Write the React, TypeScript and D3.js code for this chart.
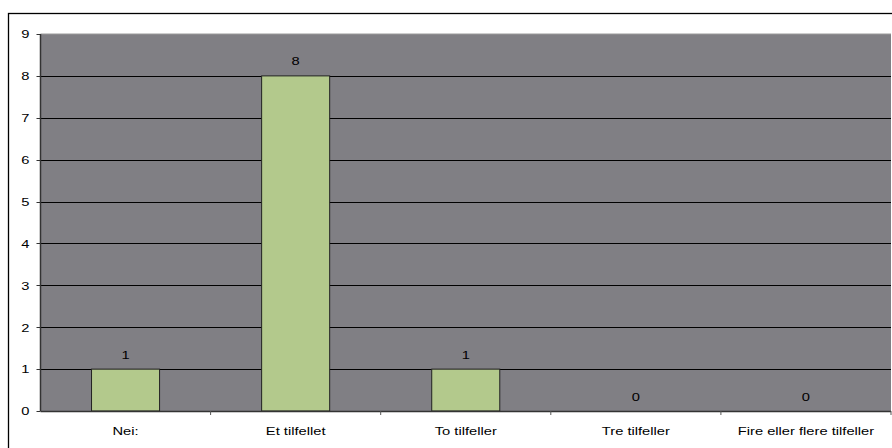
import React from "react";
import * as d3 from "d3";

const categories = ["Nei:", "Et tilfellet", "To tilfeller", "Tre tilfeller", "Fire eller flere tilfeller"];
const counts = [1, 8, 1, 0, 0];
const yTicks = [0, 1, 2, 3, 4, 5, 6, 7, 8, 9];

const W = 892;
const H = 448;
const plot = { left: 40.5, top: 34, right: 891, bottom: 411 };
const font = "'Liberation Sans', Arial, sans-serif";
const FS = 11.5;
const SX = 1.28; // labels are drawn slightly widened

function Label({ x, y, anchor, children }: { x: number; y: number; anchor: "start" | "middle" | "end"; children: React.ReactNode }) {
  return (
    <text transform={`translate(${x},${y}) scale(${SX},1)`} textAnchor={anchor} fontSize={FS} fill="#000">
      {children}
    </text>
  );
}

export default function App() {
  const x = d3
    .scaleBand<string>()
    .domain(categories)
    .range([plot.left, plot.right])
    .paddingInner(0.6)
    .paddingOuter(0.3);
  const xBand = d3.scaleBand<string>().domain(categories).range([plot.left, plot.right]);
  const y = d3.scaleLinear().domain([0, 9]).range([plot.bottom, plot.top]);

  return (
    <svg
      width={W}
      height={H}
      style={{ position: "absolute", left: 0, top: 0, display: "block" }}
      fontFamily={font}
    >
      <rect x={0} y={0} width={W} height={H} fill="#ffffff" />
      <rect x={8.5} y={13.5} width={W + 10} height={H} fill="#ffffff" stroke="#000" strokeWidth={1.3} />
      <rect
        x={plot.left}
        y={plot.top}
        width={plot.right - plot.left}
        height={plot.bottom - plot.top}
        fill="#807f84"
      />
      <line x1={plot.left} x2={plot.right} y1={plot.top} y2={plot.top} stroke="#9a9a9a" strokeWidth={1} />
      {yTicks.slice(1, -1).map((t) => (
        <line key={t} x1={plot.left} x2={plot.right} y1={Math.round(y(t)) + 0.5} y2={Math.round(y(t)) + 0.5} stroke="#000" strokeWidth={1} />
      ))}
      {counts.map((v, i) => {
        const x0 = x(categories[i])!;
        const y0 = y(v);
        return v > 0 ? (
          <rect
            key={i}
            x={x0}
            y={y0}
            width={x.bandwidth()}
            height={plot.bottom - y0}
            fill="#b3c98c"
            stroke="#222"
            strokeWidth={1}
          />
        ) : null;
      })}
      {counts.map((v, i) => (
        <Label key={"l" + i} x={x(categories[i])! + x.bandwidth() / 2} y={y(v) - 10.5} anchor="middle">
          {v}
        </Label>
      ))}
      {/* y axis */}
      <line x1={plot.left} x2={plot.left} y1={plot.top} y2={plot.bottom} stroke="#333" strokeWidth={1.5} />
      {yTicks.map((t) => (
        <g key={"y" + t}>
          <line x1={plot.left - 4} x2={plot.left} y1={Math.round(y(t)) + 0.5} y2={Math.round(y(t)) + 0.5} stroke="#333" />
          <Label x={29.5} y={y(t) + 4.3} anchor="end">
            {t}
          </Label>
        </g>
      ))}
      {/* x axis */}
      <line x1={plot.left} x2={plot.right} y1={plot.bottom + 0.5} y2={plot.bottom + 0.5} stroke="#333" strokeWidth={1.5} />
      {categories.map((c, i) => (
        <g key={"x" + i}>
          <line
            x1={xBand(c)! + xBand.bandwidth()}
            x2={xBand(c)! + xBand.bandwidth()}
            y1={plot.bottom}
            y2={plot.bottom + 4}
            stroke="#555"
          />
          <Label x={xBand(c)! + xBand.bandwidth() / 2} y={435} anchor="middle">
            {c}
          </Label>
        </g>
      ))}
    </svg>
  );
}
